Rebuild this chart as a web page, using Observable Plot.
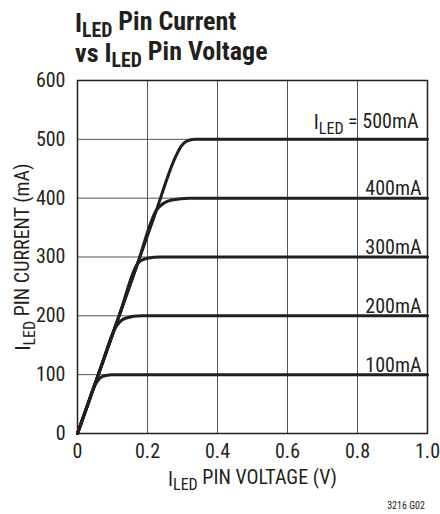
<!DOCTYPE html>
<html><head><meta charset="utf-8">
<script src="https://cdn.jsdelivr.net/npm/d3@7"></script>
<script src="https://cdn.jsdelivr.net/npm/@observablehq/plot@0.6"></script>
<style>body{margin:0;background:#fff} svg text{font-stretch:condensed}</style>
</head><body><div id="chart"></div>
<script>
const FONT = "Roboto, 'DejaVu Sans Condensed', sans-serif";
const INK = "#231f20";

// Tick values
const xTicks = [0, 0.2, 0.4, 0.6, 0.8, 1.0];
const yTicks = [0, 100, 200, 300, 400, 500, 600];

// Curves: [voltage V, current mA]
const curve100 = [[0,0],[0.03,50],[0.046,77],[0.058,90],[0.072,97],[0.098,100],[1,100]];
const curve200 = [[0,0],[0.07,118],[0.105,176],[0.12,189],[0.137,196],[0.184,200],[1,200]];
const curve300 = [[0,0],[0.12,202],[0.172,289],[0.185,295],[0.2,298],[0.236,300],[1,300]];
const curve400 = [[0,0],[0.17,286],[0.226,380],[0.245,391],[0.27,397],[0.32,400],[1,400]];
const curve500 = [[0,0],[0.22,370],[0.28,470],[0.296,488],[0.312,497],[0.335,500],[1,500]];

const seriesNames = ["100mA", "200mA", "300mA", "400mA", "500mA"];
const seriesCurves = [curve100, curve200, curve300, curve400, curve500];

// Curve labels
const labelText = ["100mA", "200mA", "300mA", "400mA"];
const labelLevel = [100, 200, 300, 400];
const topLabelText = "I_LED = 500mA";
const topLabelLevel = 500;

const rows = seriesCurves.flatMap((c, k) => c.map(([v, i]) => ({s: seriesNames[k], v, i})));
const labels = labelText.map((t, k) => ({x: 1, y: labelLevel[k], text: t}));
const topLabel = [{x: 1, y: topLabelLevel, text: topLabelText}];

const plot = Plot.plot({
  width: 440, height: 514,
  marginLeft: 77, marginRight: 13, marginTop: 80, marginBottom: 81,
  style: {fontFamily: FONT, fontSize: "20px", color: INK, background: "#fff", overflow: "visible"},
  x: {domain: [0, 1], ticks: xTicks, tickFormat: d => d === 0 ? "0" : d.toFixed(1),
      label: "I_LED PIN VOLTAGE (V)", labelAnchor: "center", labelArrow: "none", labelOffset: 52,
      tickSize: 0, tickPadding: 10},
  y: {domain: [0, 600], ticks: yTicks, label: "I_LED PIN CURRENT (mA)", labelAnchor: "center",
      labelArrow: "none", labelOffset: 62, tickSize: 0, tickPadding: 12},
  marks: [
    Plot.gridX(xTicks, {stroke: "#555", strokeOpacity: 1, strokeWidth: 1}),
    Plot.gridY(yTicks, {stroke: "#555", strokeOpacity: 1, strokeWidth: 1}),
    Plot.line(rows, {x: "v", y: "i", z: "s", curve: "monotone-x", stroke: INK, strokeWidth: 3}),
    Plot.frame({stroke: INK, strokeWidth: 1.5}),
    Plot.text(labels, {x: "x", y: "y", text: "text", textAnchor: "end", lineAnchor: "bottom",
      dx: -6, dy: -3, fontSize: 20, fill: INK}),
    Plot.text(topLabel, {x: "x", y: "y", text: "text", textAnchor: "end", lineAnchor: "bottom",
      dx: -9, dy: -10, fontSize: 20, fill: INK})
  ]
});

document.getElementById("chart").appendChild(plot);
const svg = d3.select(plot);

// Subscript handling for I_LED
function subscriptify(node) {
  const t = node.textContent;
  if (!t.includes("I_LED")) return;
  const parts = t.split("I_LED");
  const sel = d3.select(node);
  sel.text(null);
  parts.forEach((p, k) => {
    if (k > 0) {
      sel.append("tspan").text("I");
      sel.append("tspan").attr("dy", "0.3em").attr("font-size", "0.8em").text("LED");
      sel.append("tspan").attr("dy", "-0.3em").text(p);
    } else if (p) {
      sel.append("tspan").text(p);
    }
  });
}
svg.selectAll("text").each(function() { subscriptify(this); });

// Title
const title = svg.append("g").attr("class", "title").attr("font-family", FONT).attr("font-weight", "bold")
  .attr("font-size", 26).attr("fill", INK).attr("text-anchor", "start");
function titleLine(y, before, after) {
  const t = title.append("text").attr("x", 75).attr("y", y);
  if (before) t.append("tspan").text(before);
  t.append("tspan").text("I");
  t.append("tspan").attr("dy", "0.26em").attr("font-size", "0.76em").text("LED");
  t.append("tspan").attr("dy", "-0.26em").text(after);
}
titleLine(32, "", " Pin Current");
titleLine(62, "vs ", " Pin Voltage");

svg.append("text").attr("x", 425).attr("y", 509).attr("text-anchor", "end")
  .attr("font-family", FONT).attr("font-size", 10).attr("fill", INK).text("3216 G02");
</script>
</body></html>
